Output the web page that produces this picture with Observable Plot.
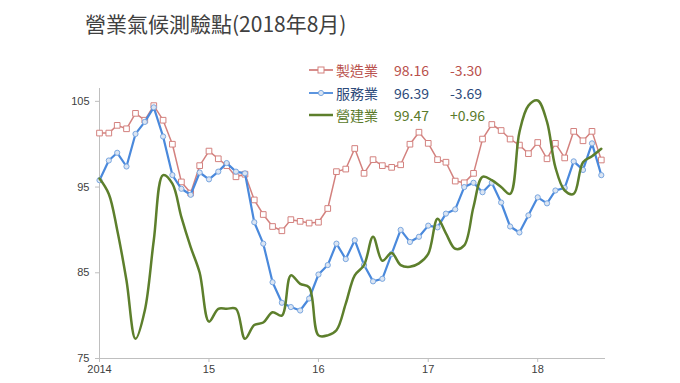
<!DOCTYPE html>
<html><head><meta charset="utf-8">
<script src="https://cdn.jsdelivr.net/npm/d3@7"></script>
<script src="https://cdn.jsdelivr.net/npm/@observablehq/plot@0.6"></script>
<style>
body{margin:0;background:#fff;}
#wrap{position:relative;width:680px;height:383px;overflow:hidden;font-family:"Noto Sans CJK TC","Noto Sans",sans-serif;}
#title{position:absolute;left:85px;top:8px;font-size:21px;line-height:30px;color:#404040;white-space:nowrap;}
#unit{position:absolute;left:75px;top:65px;font-size:10.5px;line-height:14px;font-family:"Liberation Sans",Arial,sans-serif;color:#404040;}
#chart{position:absolute;left:0;top:45px;}
.row{position:absolute;left:308px;height:20px;display:flex;align-items:center;font-size:14px;white-space:nowrap;}
.row svg{width:26px;height:10px;margin-right:2px;}
.row .n{width:58px;}
.row .v{width:56px;}
</style>
</head><body>
<div id="wrap">
  <div id="title">營業氣候測驗點(2018年8月)</div>
  <div id="unit">2006=100</div>
  <div id="chart"></div>
  <div id="legend"></div>
</div>
<script>
// ---- data ----
const seriesNames = ["製造業", "服務業", "營建業"];
const latestValues = ["98.16", "96.39", "99.47"];
const changes = ["-3.30", "-3.69", "+0.96"];
const seriesColors = ["#d3817e", "#4a89dc", "#5d7f2c"];
const textColors = ["#b9504c", "#2d4a7a", "#5a7a2a"];

const years = [2014, 2015, 2016, 2017, 2018];
const xTickLabels = ["2014", "15", "16", "17", "18"];
const yTicks = [75, 85, 95, 105];

// monthly, Jan 2014 – Aug 2018
const manufacturing = [101.3,101.3,102.2,101.8,103.6,102.8,104.5,102.8,100.0,95.6,94.3,97.5,99.2,98.3,97.5,96.2,96.5,93.5,91.8,90.4,89.9,91.2,91.0,90.8,90.9,92.5,96.8,97.1,99.5,96.6,98.2,97.5,97.3,97.6,100.0,101.4,100.1,98.2,97.9,95.7,95.5,96.6,100.6,102.3,101.6,100.6,99.9,98.9,100.2,98.3,100.1,98.4,101.5,100.4,101.5,98.16];
const services = [95.8,98.1,99.0,97.4,101.2,102.6,104.3,100.9,96.4,94.8,94.1,96.7,95.9,96.8,97.8,96.8,96.6,90.9,88.4,83.9,81.5,81.0,80.6,82.0,84.8,85.9,88.4,86.6,88.8,85.9,84.0,84.3,87.2,90.0,88.6,89.2,90.5,90.3,91.9,92.4,95.0,95.5,94.4,95.5,93.2,90.4,89.7,91.7,93.8,93.1,94.6,94.9,98.0,97.0,100.1,96.39];
const construction = [96.0,94.2,90.0,84.1,77.3,80.6,88.8,96.4,95.4,91.5,88.0,85.0,79.3,80.8,80.8,80.8,77.3,78.9,79.2,80.4,80.0,84.7,83.7,83.3,77.7,77.7,78.3,81.4,84.7,85.9,89.2,86.4,87.3,85.9,85.7,86.1,87.2,91.3,89.6,87.8,88.2,92.7,96.2,95.8,95.0,94.2,101.4,104.5,105.1,102.6,97.3,94.6,94.2,97.9,98.6,99.47];

const months = d3.utcMonth.range(new Date(Date.UTC(2014,0,1)), new Date(Date.UTC(2018,8,1)));
const data = months.map((d, i) => ({date: d, mfg: manufacturing[i], svc: services[i], con: construction[i]}));
const yearDates = years.map(y => new Date(Date.UTC(y, 0, 1)));

const chart = Plot.plot({
  width: 680, height: 338,
  marginLeft: 99, marginRight: 75, marginTop: 43, marginBottom: 25,
  x: {type: "utc", domain: [new Date(Date.UTC(2014,0,1)), new Date(Date.UTC(2018,7,15))]},
  y: {domain: [75, 106.5]},
  style: {fontFamily: "'Liberation Sans', Arial, sans-serif", fontSize: "11px", color: "#404040", background: "white", overflow: "visible"},
  marks: [
    Plot.ruleY([yTicks[0]], {stroke: "#bfbfbf"}),
    Plot.ruleX([months[0]], {stroke: "#bfbfbf"}),
    Plot.axisY({ticks: yTicks, tickSize: 4, tickPadding: 6, stroke: "#bfbfbf", fill: "#404040", label: null}),
    Plot.axisX({ticks: yearDates, tickSize: 4, tickPadding: 3, stroke: "#bfbfbf", fill: "#404040", label: null,
      tickFormat: d => xTickLabels[yearDates.findIndex(t => +t === +d)]}),
    Plot.line(data, {x: "date", y: "mfg", stroke: seriesColors[0], strokeWidth: 1.5}),
    Plot.dot(data, {x: "date", y: "mfg", symbol: "square", r: 3.2, fill: "white", stroke: seriesColors[0], strokeWidth: 1}),
    Plot.line(data, {x: "date", y: "svc", stroke: seriesColors[1], strokeWidth: 2.2}),
    Plot.dot(data, {x: "date", y: "svc", symbol: "circle", r: 2.6, fill: "#dbe5f3", stroke: "#7aa7e0", strokeWidth: 1}),
    Plot.line(data, {x: "date", y: "con", stroke: seriesColors[2], strokeWidth: 2.5, curve: "catmull-rom"})
  ]
});
document.getElementById("chart").appendChild(chart);

// legend
const legend = document.getElementById("legend");
const rowTops = [60, 83, 105];
seriesNames.forEach((name, i) => {
  const row = document.createElement("div");
  row.className = "row";
  row.style.top = rowTops[i] + "px";
  row.style.color = textColors[i];
  let sym = "";
  if (i === 0) sym = `<rect x="10" y="2" width="6" height="6" fill="white" stroke="${seriesColors[0]}"/>`;
  if (i === 1) sym = `<circle cx="13" cy="5" r="2.6" fill="#dbe5f3" stroke="#7aa7e0"/>`;
  row.innerHTML = `<svg viewBox="0 0 26 10"><line x1="1" y1="5" x2="25" y2="5" stroke="${seriesColors[i]}" stroke-width="${i===2?2.5:1.8}"/>${sym}</svg>` +
    `<span class="n">${name}</span><span class="v">${latestValues[i]}</span><span class="c">${changes[i]}</span>`;
  legend.appendChild(row);
});
</script>
</body></html>
